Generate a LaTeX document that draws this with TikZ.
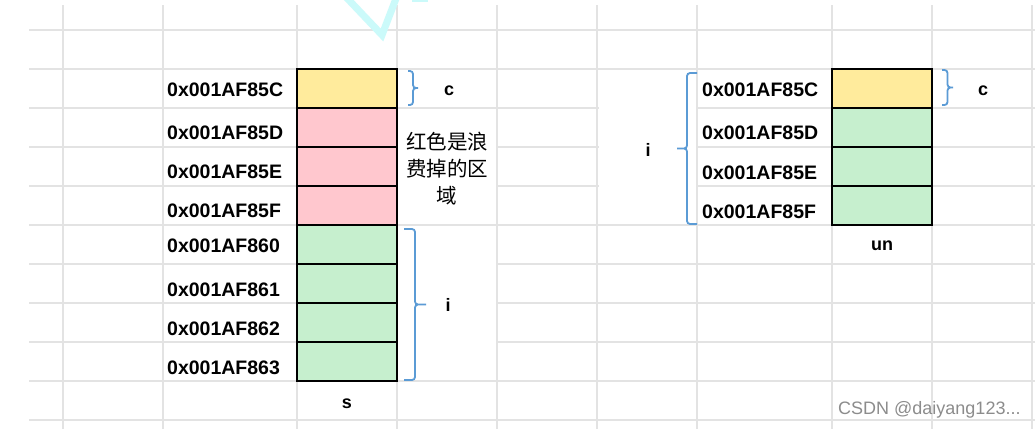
\documentclass[tikz,border=0pt]{standalone}
\usepackage{fontspec}
\setmainfont{Liberation Sans}
\newfontfamily\cjk{Noto Sans CJK SC}
\usepackage{xcolor}
\usetikzlibrary{positioning,calc}
\definecolor{gridgray}{HTML}{E3E3E3}
\definecolor{cellyellow}{HTML}{FFEB9C}
\definecolor{cellpink}{HTML}{FFC7CE}
\definecolor{cellgreen}{HTML}{C6EFCE}
\definecolor{braceblue}{HTML}{5B9BD5}
\definecolor{markcyan}{HTML}{CBFAFA}
\begin{document}
\begin{tikzpicture}[x=1pt,y=-1pt,
  grid/.style={draw=gridgray,line width=1.3pt},
  cell/.style={draw,line width=1.3pt,minimum width=100pt,minimum height=39pt,inner sep=0pt,outer sep=0pt},
  addr/.style={anchor=west,inner sep=0pt,font=\fontsize{19.5}{22}\selectfont\bfseries},
  lbl/.style={inner sep=0pt,font=\fontsize{18}{20}\selectfont\bfseries},
  sqbrace/.style={draw=braceblue,line width=1.8pt,rounded corners=3pt,
    to path={-- ($(\tikztostart)+(#1,0)$) -- ($(\tikztostart)!.5!(\tikztotarget)+(#1,0)$)
      -- ($(\tikztostart)!.5!(\tikztotarget)+(2*#1,0)$)
      ($(\tikztostart)!.5!(\tikztotarget)+(2*#1,0)$) -- ($(\tikztostart)!.5!(\tikztotarget)+(#1,0)$)
      -- ($(\tikztotarget)+(#1,0)$) -- (\tikztotarget)}}]
  \useasboundingbox[fill=white] (0,0) rectangle (1035,429);
  \foreach \x in {63,163,297,397,497,597,697,832,932,1032}
    \draw[grid] (\x,5) -- (\x,429);
  \foreach \y in {30,69,...,420}
    \draw[grid] (29,\y) -- (1035,\y);
  \fill[white] (398,109.5) rectangle (495.5,223.5);
  \fill[white] (398,226.5) rectangle (495.5,379.5);
  \fill[white] (598.5,70.5) rectangle (695.5,223.5);
  \draw[markcyan,line width=7pt] (345,-4) -- (382,35) -- (397,-4);
  \draw[markcyan,line width=5pt] (412,-1) -- (428,-1);

  \node[cell,fill=cellyellow] (s1) at (347,88.5) {};
  \node[cell,fill=cellpink,below=0pt of s1] (s2) {};
  \node[cell,fill=cellpink,below=0pt of s2] (s3) {};
  \node[cell,fill=cellpink,below=0pt of s3] (s4) {};
  \node[cell,fill=cellgreen,below=0pt of s4] (s5) {};
  \node[cell,fill=cellgreen,below=0pt of s5] (s6) {};
  \node[cell,fill=cellgreen,below=0pt of s6] (s7) {};
  \node[cell,fill=cellgreen,below=0pt of s7] (s8) {};
  \node[addr] (sa1) at (167,90) {0x001AF85C};
  \node[addr] (sa2) at (167,133) {0x001AF85D};
  \node[addr] (sa3) at (167,172) {0x001AF85E};
  \node[addr] (sa4) at (167,211) {0x001AF85F};
  \node[addr] (sa5) at (167,246) {0x001AF860};
  \node[addr] (sa6) at (167,290) {0x001AF861};
  \node[addr] (sa7) at (167,329) {0x001AF862};
  \node[addr] (sa8) at (167,368) {0x001AF863};
  \coordinate (scTop) at ([xshift=11pt,yshift=-2pt]s1.north east);
  \coordinate (scBot) at ([xshift=11pt,yshift=3pt]s1.south east);
  \coordinate (siTop) at ([xshift=7pt,yshift=-4pt]s5.north east);
  \coordinate (siBot) at ([xshift=7pt,yshift=1pt]s8.south east);
  \draw[sqbrace=5] (scTop) to (scBot);
  \draw[sqbrace=11] (siTop) to (siBot);
  \node[lbl] (sc) at (449,91) {c};
  \node[lbl] (si) at (448,305) {i};
  \node[lbl] (sname) at (347,404) {s};
  \node[align=center,inner sep=0pt,font=\cjk\fontsize{20.5}{27}\selectfont] (waste) at (447,169) {红色是浪\\费掉的区\\域};

  \node[cell,fill=cellyellow] (u1) at (882,88.5) {};
  \node[cell,fill=cellgreen,below=0pt of u1] (u2) {};
  \node[cell,fill=cellgreen,below=0pt of u2] (u3) {};
  \node[cell,fill=cellgreen,below=0pt of u3] (u4) {};
  \node[addr] (ua1) at (702,90) {0x001AF85C};
  \node[addr] (ua2) at (702,133) {0x001AF85D};
  \node[addr] (ua3) at (702,173) {0x001AF85E};
  \node[addr] (ua4) at (702,212) {0x001AF85F};
  \coordinate (ucTop) at ([xshift=10pt,yshift=-1pt]u1.north east);
  \coordinate (ucBot) at ([xshift=10pt,yshift=3pt]u1.south east);
  \coordinate (uiTop) at ([xshift=-135pt,yshift=-4pt]u1.north west);
  \coordinate (uiBot) at ([xshift=-135pt,yshift=1pt]u4.south west);
  \draw[sqbrace=5.5] (ucTop) to (ucBot);
  \draw[sqbrace=-10] (uiTop) to (uiBot);
  \node[lbl] (uc) at (983,91) {c};
  \node[lbl] (ui) at (648,150) {i};
  \node[lbl] (uname) at (882,246) {un};

  \node[anchor=west,inner sep=0pt,text=gray!90,font=\fontsize{18}{20}\selectfont] (mark) at (838,410) {CSDN @daiyang123...};
\end{tikzpicture}
\end{document}
